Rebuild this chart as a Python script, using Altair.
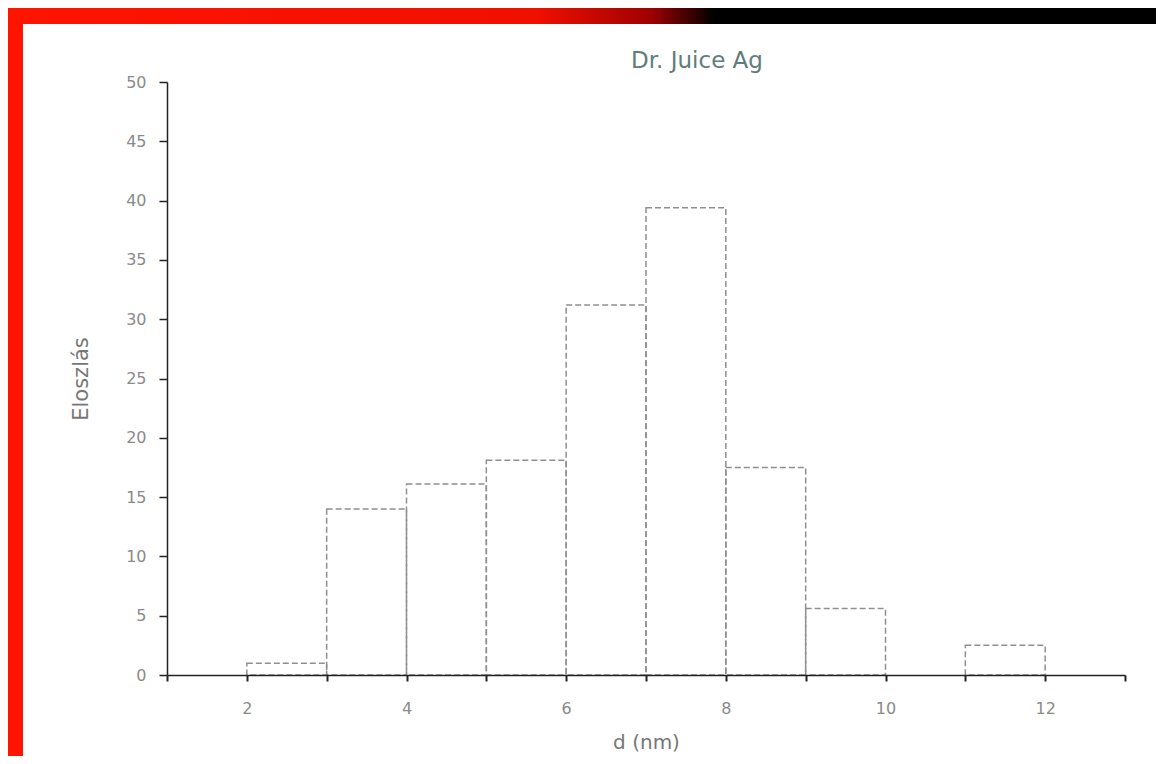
import altair as alt
import pandas as pd

# data
bin_start = [2, 3, 4, 5, 6, 7, 8, 9, 11]
bin_end = [3, 4, 5, 6, 7, 8, 9, 10, 12]
counts = [1.0, 14.0, 16.1, 18.1, 31.2, 39.4, 17.5, 5.6, 2.5]

x_ticks = list(range(1, 14))
y_ticks = list(range(0, 51, 5))

df = pd.DataFrame({"start": bin_start, "end": bin_end, "count": counts})

W, H = 958, 593
PL, PT, PR, PB = 159, 74, 31, 81

FONT = "DejaVu Sans"

bars = alt.Chart(df).mark_rect(
    fill="white", fillOpacity=0, stroke="#8f8f8f", strokeWidth=1.5, strokeDash=[6, 3]
).encode(
    x=alt.X("start:Q", scale=alt.Scale(domain=[1, 13], nice=False, zero=False),
            axis=alt.Axis(values=x_ticks, title="d (nm)",
                          labelExpr="datum.value % 2 == 0 ? datum.label : ''",
                          grid=False, domainColor="#222", domainWidth=1.5,
                          tickColor="#222", tickSize=6, tickWidth=2,
                          labelPadding=19, labelFont=FONT, labelFontSize=16,
                          labelColor="#8a8a8a", titleFont=FONT, titleFontSize=20,
                          titleFontWeight="normal", titleColor="#777777",
                          titlePadding=16, zindex=1)),
    x2="end:Q",
    y=alt.Y("count:Q", scale=alt.Scale(domain=[0, 50], nice=False),
            axis=alt.Axis(values=y_ticks, title="Eloszlás", grid=False,
                          domainColor="#222", domainWidth=1.5, tickColor="#222",
                          tickSize=8, tickWidth=1.5, labelPadding=13,
                          labelFont=FONT, labelFontSize=16, labelColor="#8a8a8a",
                          titleFont=FONT, titleFontSize=21, titleFontWeight="normal",
                          titleColor="#777777", titlePadding=34, zindex=1)),
    y2=alt.Y2(datum=0),
)

# decorative frame of the scanned slide: red left border, red-to-black top strip
top_strip = alt.Chart(pd.DataFrame({"k": [0]})).mark_rect(
    fill=alt.Gradient(
        gradient="linear",
        stops=[alt.GradientStop(color="#ff1400", offset=0),
               alt.GradientStop(color="#f01000", offset=0.46),
               alt.GradientStop(color="#a00000", offset=0.56),
               alt.GradientStop(color="#000000", offset=0.615),
               alt.GradientStop(color="#000000", offset=1)],
        x1=0, x2=1, y1=0, y2=0),
).encode(x=alt.value(-PL), x2=alt.value(W + PR), y=alt.value(-PT), y2=alt.value(-58))

left_strip = alt.Chart(pd.DataFrame({"k": [0]})).mark_rect(fill="#ff1400").encode(
    x=alt.value(-PL), x2=alt.value(-144), y=alt.value(-PT), y2=alt.value(H + PB)
)

chart = alt.layer(top_strip, left_strip, bars).properties(
    width=W, height=H,
    title=alt.TitleParams("Dr. Juice Ag", frame="group", dx=51, offset=-65,
                          font=FONT, fontSize=23, fontWeight="normal",
                          color="#5f7d7a"),
    autosize=alt.AutoSizeParams(type="none"),
    padding={"left": PL, "top": PT, "right": PR, "bottom": PB},
).configure(background="white", view=alt.ViewConfig(stroke=None))

chart.save("out.html", embed_options={"renderer": "svg", "actions": False})
